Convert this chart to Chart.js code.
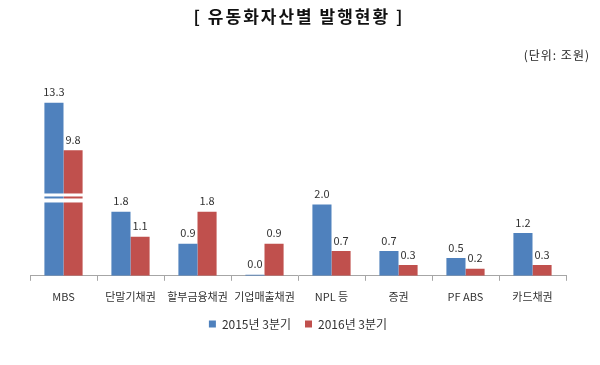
<!DOCTYPE html>
<html>
<head>
<meta charset="utf-8">
<script src="https://cdn.jsdelivr.net/npm/chart.js@4"></script>
<style>
    html, body { margin: 0; padding: 0; background: #fff; }
    #wrap { width: 600px; height: 365px; }
</style>
</head>
<body>
<div id="wrap"><canvas id="graphique-abs"></canvas></div>
<script>
const categories = ["MBS", "단말기채권", "할부금융채권", "기업매출채권", "NPL 등", "증권", "PF ABS", "카드채권"]
const series2015 = [13.3, 1.8, 0.9, 0.0, 2.0, 0.7, 0.5, 1.2]
const series2016 = [9.8, 1.1, 1.8, 0.9, 0.7, 0.3, 0.2, 0.3]
const seriesNames = ["2015년 3분기", "2016년 3분기"]
const titleText = "[ 유동화자산별 발행현황 ]"
const unitText = "(단위: 조원)"

// axe coupé : au-dessus de breakAt, l'échelle reprend à resumeAt et est compressée
const breakAt = 2.2
const resumeAt = 6.3
const upperScale = 0.38
function toAxis(v) {
    return v <= breakAt ? v : breakAt + (v - resumeAt) * upperScale
}

const font = "'Noto Sans CJK KR', 'Noto Sans', sans-serif"
const colors = ["#4f81bd", "#c0504d"]
const realValues = [series2015, series2016]

// titre, unité, étiquettes de valeur + coupure de l'axe sur les barres MBS
const barExtras = {
    id: "barExtras",
    afterLayout(chart) {
        // remonter un peu la légende
        chart.legend.top -= 8
        chart.legend.bottom -= 8
    },
    afterDatasetsDraw(chart) {
        const ctx = chart.ctx
        const yScale = chart.scales.y
        const yBreak = yScale.getPixelForValue(breakAt)
        ctx.save()
        categories.forEach((cat, i) => {
            const broken = realValues.some(s => s[i] > breakAt)
            if (!broken) return
            let left = Infinity, right = -Infinity
            realValues.forEach((s, d) => {
                const bar = chart.getDatasetMeta(d).data[i]
                left = Math.min(left, bar.x - bar.width / 2)
                right = Math.max(right, bar.x + bar.width / 2)
            })
            ctx.fillStyle = "#fff"
            ctx.fillRect(left - 1, yBreak - 4, right - left + 2, 3)
            ctx.fillRect(left - 1, yBreak + 1, right - left + 2, 4)
        })
        ctx.fillStyle = "#333"
        ctx.font = "11px " + font
        ctx.textAlign = "center"
        ctx.textBaseline = "bottom"
        realValues.forEach((s, d) => {
            chart.getDatasetMeta(d).data.forEach((bar, i) => {
                ctx.fillText(s[i].toFixed(1), bar.x, bar.y - 5)
            })
        })
        // titre
        ctx.letterSpacing = "2px"
        ctx.font = "bold 17px " + font
        ctx.textAlign = "center"
        ctx.textBaseline = "middle"
        ctx.fillStyle = "#111"
        ctx.fillText(titleText, 299, 17)
        // unité en haut à droite
        ctx.letterSpacing = "1px"
        ctx.font = "12px " + font
        ctx.textAlign = "right"
        ctx.fillStyle = "#222"
        ctx.fillText(unitText, 590, 55)
        ctx.restore()
    }
}

const data = {
    labels: categories,
    datasets: [{
        label: seriesNames[0],
        data: series2015.map(toAxis),
        backgroundColor: colors[0],
        minBarLength: 1
    }, {
        label: seriesNames[1],
        data: series2016.map(toAxis),
        backgroundColor: colors[1],
        minBarLength: 1
    }]
}

const config = {
    type: "bar",
    data: data,
    options: {
        responsive: true,
        maintainAspectRatio: false,
        animation: false,
        datasets: {
            bar: { categoryPercentage: 0.57, barPercentage: 1.0 }
        },
        layout: {
            padding: { left: 30, right: 34, top: 80, bottom: 17 }
        },
        plugins: {
            legend: {
                position: "bottom",
                labels: {
                    boxWidth: 7,
                    boxHeight: 7,
                    padding: 14,
                    color: "#333",
                    font: { family: font, size: 12 }
                }
            },
            tooltip: { enabled: false }
        },
        scales: {
            x: {
                grid: {
                    display: true,
                    drawOnChartArea: false,
                    drawTicks: true,
                    tickLength: 5,
                    offset: true,
                    color: "#a6a6a6"
                },
                border: { color: "#a6a6a6" },
                ticks: {
                    color: "#333",
                    padding: 9,
                    maxRotation: 0,
                    autoSkip: false,
                    font: { family: font, size: 11 }
                }
            },
            y: {
                display: false,
                min: 0,
                max: 5.5
            }
        }
    },
    plugins: [barExtras]
}

new Chart(
    document.querySelector("#graphique-abs"),
    config,
)
</script>
</body>
</html>
